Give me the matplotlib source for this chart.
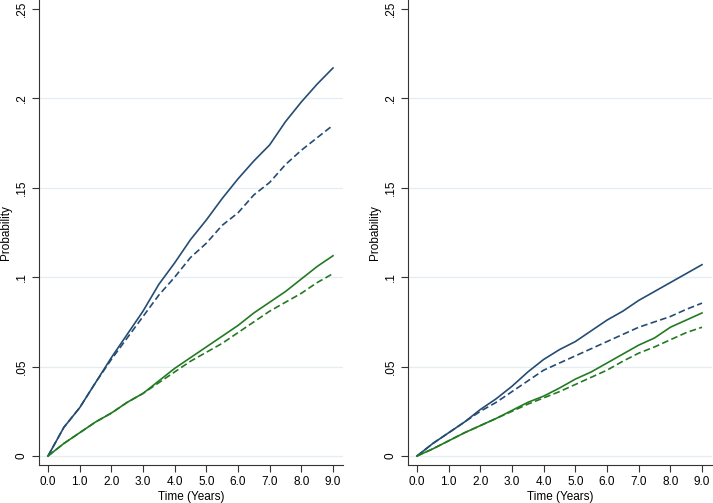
import numpy as np
import matplotlib
matplotlib.use("Agg")
import matplotlib.pyplot as plt

plt.rcParams['font.family'] = ['Liberation Sans', 'DejaVu Sans']

# Time points (years)
t = [0, 0.5, 1, 1.5, 2, 2.5, 3, 3.5, 4, 4.5, 5, 5.5, 6, 6.5, 7, 7.5, 8, 8.5, 9]

# Left panel
left_blue_solid = [0, 0.016, 0.027, 0.041, 0.055, 0.068, 0.081, 0.096, 0.108, 0.121,
                   0.132, 0.144, 0.155, 0.165, 0.174, 0.187, 0.198, 0.208, 0.217]
left_blue_dash = [0, 0.016, 0.027, 0.041, 0.054, 0.066, 0.078, 0.090, 0.100, 0.111,
                  0.119, 0.129, 0.136, 0.146, 0.153, 0.163, 0.171, 0.178, 0.185]
left_green_solid = [0, 0.007, 0.013, 0.019, 0.024, 0.030, 0.035, 0.042, 0.049, 0.055,
                    0.061, 0.067, 0.073, 0.080, 0.086, 0.092, 0.099, 0.106, 0.112]
left_green_dash = [0, 0.007, 0.013, 0.019, 0.024, 0.030, 0.035, 0.041, 0.047, 0.053,
                   0.058, 0.063, 0.069, 0.075, 0.081, 0.086, 0.091, 0.097, 0.102]

# Right panel
right_blue_solid = [0, 0.007, 0.013, 0.019, 0.026, 0.032, 0.039, 0.047, 0.054, 0.0595,
                    0.064, 0.070, 0.076, 0.081, 0.087, 0.092, 0.097, 0.102, 0.107]
right_blue_dash = [0, 0.007, 0.013, 0.019, 0.025, 0.030, 0.036, 0.042, 0.048, 0.052,
                   0.056, 0.060, 0.064, 0.068, 0.072, 0.075, 0.078, 0.082, 0.0855]
right_green_solid = [0, 0.004, 0.0085, 0.013, 0.017, 0.021, 0.0255, 0.030, 0.0335, 0.038,
                     0.043, 0.047, 0.052, 0.057, 0.062, 0.066, 0.072, 0.076, 0.080]
right_green_dash = [0, 0.004, 0.0085, 0.013, 0.017, 0.021, 0.025, 0.029, 0.0325, 0.036,
                    0.040, 0.044, 0.048, 0.053, 0.0575, 0.061, 0.065, 0.069, 0.072]

xticks = [0, 1, 2, 3, 4, 5, 6, 7, 8, 9]
xticklabels = ["0.0", "1.0", "2.0", "3.0", "4.0", "5.0", "6.0", "7.0", "8.0", "9.0"]
yticks = [0, 0.05, 0.1, 0.15, 0.2, 0.25]
yticklabels = ["0", ".05", ".1", ".15", ".2", ".25"]

blue = "#254c73"
green = "#237a23"
W, H = 713, 503

fig = plt.figure(figsize=(W / 100, H / 100), dpi=100)


def panel(rect, series):
    ax = fig.add_axes(rect)
    for y, color, ls in series:
        ax.plot(t, y, color=color, linestyle=ls, linewidth=1.2,
                dashes=(4, 2) if ls == "--" else (None, None))
    ax.set_xlim(-0.284, 9.316)
    ax.set_ylim(-0.00503, 0.25503)
    ax.set_xticks(xticks)
    ax.set_xticklabels(xticklabels)
    ax.set_yticks(yticks)
    ax.set_yticklabels(yticklabels, rotation=90, va="center")
    for yv in yticks[:-1]:
        ax.axhline(yv, color="#e6edf1", linewidth=0.9, zorder=0)
    ax.spines["top"].set_visible(False)
    ax.spines["right"].set_visible(False)
    ax.spines["left"].set_color("#333333")
    ax.spines["bottom"].set_color("#333333")
    ax.tick_params(direction="out", length=5, width=0.8, color="#333333",
                   labelsize=8.5, pad=3)
    ax.set_xlabel("Time (Years)", fontsize=8.5, labelpad=2)
    ax.set_ylabel("Probability", fontsize=8.5, labelpad=3)
    return ax


panel([39 / W, 1 - 465 / H, 304 / W, 465 / H],
      [(left_blue_solid, blue, "-"), (left_blue_dash, blue, "--"),
       (left_green_solid, green, "-"), (left_green_dash, green, "--")])
panel([408 / W, 1 - 465 / H, 304 / W, 465 / H],
      [(right_blue_solid, blue, "-"), (right_blue_dash, blue, "--"),
       (right_green_solid, green, "-"), (right_green_dash, green, "--")])

fig.savefig("out.png", dpi=100)
